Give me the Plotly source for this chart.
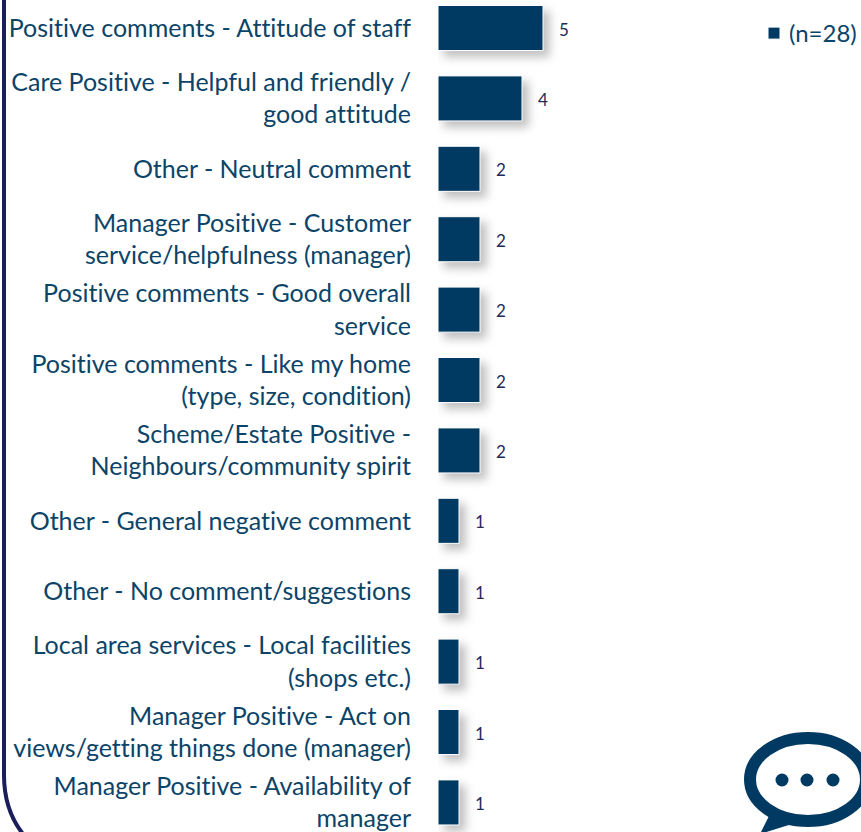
import plotly.graph_objects as go

categories = [
    "Positive comments - Attitude of staff",
    "Care Positive - Helpful and friendly /<br>good attitude",
    "Other - Neutral comment",
    "Manager Positive - Customer<br>service/helpfulness (manager)",
    "Positive comments - Good overall<br>service",
    "Positive comments - Like my home<br>(type, size, condition)",
    "Scheme/Estate Positive -<br>Neighbours/community spirit",
    "Other - General negative comment",
    "Other - No comment/suggestions",
    "Local area services - Local facilities<br>(shops etc.)",
    "Manager Positive - Act on<br>views/getting things done (manager)",
    "Manager Positive - Availability of<br>manager",
]
values = [5, 4, 2, 2, 2, 2, 2, 1, 1, 1, 1, 1]
series_name = "(n=28)"

W, H = 861, 832
L = 438
NAVY = "#003a63"
TEXT = "#0b4468"
def px(x): return (x - L) / (W - L)
def py(y): return 1 - y / H

fig = go.Figure(go.Bar(
    y=categories, x=values, orientation="h", name=series_name,
    marker=dict(color=NAVY, line=dict(color="white", width=1)),
    showlegend=True,
))
for c, v in zip(categories, values):
    fig.add_annotation(x=v, y=c, xref="x", yref="y", text=str(v), showarrow=False,
                       xshift=21, yshift=-1, font=dict(family="Lato", size=17, color="#1f2a5c"))

shapes = [
    dict(type="path", xref="paper", yref="paper", line=dict(color="#1a1f5c", width=4),
         path=f"M{px(4)},{py(-5)} L{px(4)},{py(775)} Q{px(4)},{py(810)} {px(23)},{py(834)}"),
    dict(type="circle", xref="paper", yref="paper", line=dict(color=NAVY, width=12),
         fillcolor="white", x0=px(750), x1=px(866), y0=py(738), y1=py(821)),
    dict(type="path", xref="paper", yref="paper", line=dict(width=0), fillcolor=NAVY,
         path=f"M{px(769)},{py(816)} L{px(760)},{py(834)} L{px(792)},{py(824)} Z"),
]
for cx in (782, 807, 833):
    shapes.append(dict(type="circle", xref="paper", yref="paper", line=dict(width=0), fillcolor=NAVY,
                       x0=px(cx - 6.5), x1=px(cx + 6.5), y0=py(773.5), y1=py(786.5)))

fig.update_layout(
    width=W, height=H, margin=dict(l=L, r=0, t=0, b=0, pad=0, autoexpand=False),
    paper_bgcolor="white", plot_bgcolor="white", bargap=0.36,
    font=dict(family="Lato", color=TEXT),
    xaxis=dict(range=[0, (W - L) / 21], visible=False),
    yaxis=dict(range=[11.42, -0.398], type="category", tickfont=dict(family="Lato", size=25, color=TEXT),
               ticks="", showline=False, showgrid=False, ticklabelstandoff=26, automargin=False),
    legend=dict(x=px(754), y=py(11), xanchor="left", yanchor="top", font=dict(family="Lato", size=24, color=TEXT),
                bgcolor="rgba(0,0,0,0)", itemwidth=30),
    shapes=shapes,
)
fig.write_html("out.html", config=dict(displayModeBar=False), post_script=(
    "document.documentElement.style.overflow='hidden';"
    "document.body.style.margin='0';"
    "document.querySelectorAll('svg text').forEach(t=>t.style.fontVariantLigatures='none');"
    "document.querySelectorAll('.legendtext').forEach(t=>t.setAttribute('transform','translate(-5,0)'));"
    "document.querySelectorAll('.bars .point path').forEach(p=>p.style.filter='drop-shadow(6px 6px 5px rgba(0,0,0,0.25))');"
))
